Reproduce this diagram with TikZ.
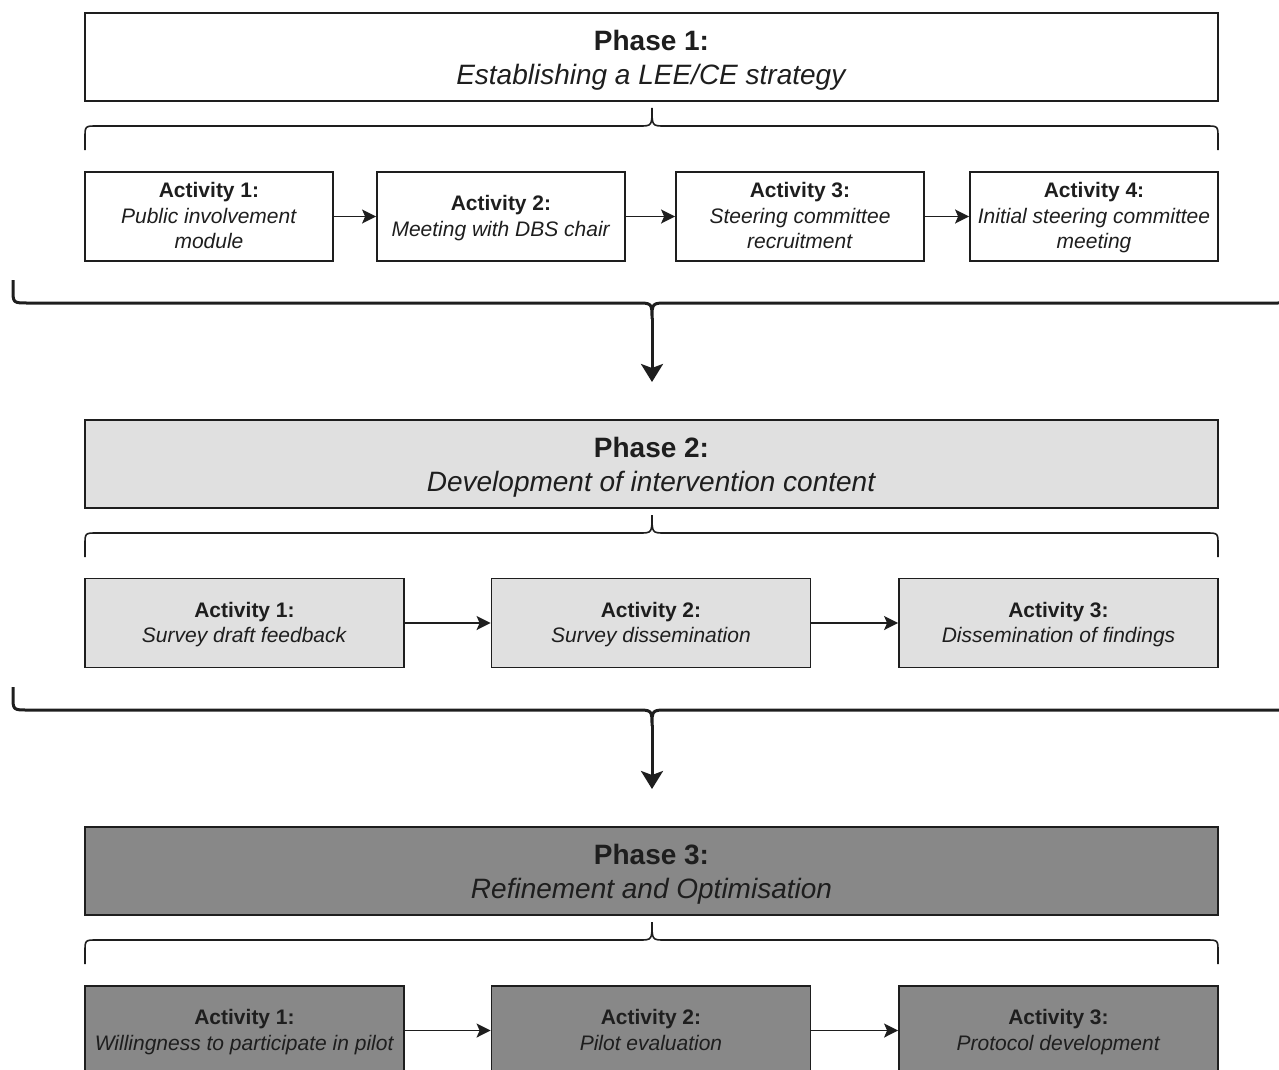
\documentclass[tikz,border=0pt]{standalone}
\usepackage{fontspec}
\setmainfont{Liberation Sans}
\usetikzlibrary{arrows.meta}

\definecolor{phasetwo}{RGB}{224,224,224}
\definecolor{phasethree}{RGB}{136,136,136}
\definecolor{ink}{RGB}{30,30,30}

\newcommand{\phasetop}{\rule{0pt}{13.2pt}}
\newcommand{\acttop}{\rule{0pt}{10.7pt}}

\tikzset{
  phase/.style={draw=ink, line width=1pt, inner sep=0pt, align=center,
    minimum width=566.5pt, minimum height=44pt, text=ink,
    font=\fontsize{14}{17}\selectfont},
  act/.style={draw=ink, line width=0.9pt, inner sep=0pt, align=center,
    minimum height=44.5pt, text=ink,
    font=\fontsize{10.5}{12.75}\selectfont},
  actsmall/.style={act, minimum width=124pt},
  actwide/.style={act, minimum width=159.5pt},
  flow/.style={draw=ink, line width=0.9pt, -{Stealth[length=7pt,width=7pt,inset=1.5pt]}},
  down/.style={draw=ink, line width=1.5pt, -{Stealth[length=9pt,width=11pt,inset=2pt]}},
  brace/.style={draw=ink, line width=0.8pt},
  bigbrace/.style={draw=ink, line width=1.5pt}
}

\begin{document}
\begin{tikzpicture}[x=0.5pt,y=-0.5pt]
\useasboundingbox (0,0) rectangle (1279,1070);
\clip (0,0) rectangle (1279,1070);

\node[phase, fill=white](p1) at (651.5,57) {\phasetop\textbf{Phase 1:}\\\textit{Establishing a LEE/CE strategy}};
\node[phase, fill=phasetwo](p2) at (651.5,464) {\phasetop\textbf{Phase 2:}\\\textit{Development of intervention content}};
\node[phase, fill=phasethree](p3) at (651.5,871) {\phasetop\textbf{Phase 3:}\\\textit{Refinement and Optimisation}};

\node[actsmall](a11) at (209,216.5) {\acttop\textbf{Activity 1:}\\\textit{Public involvement}\\\textit{module}\strut};
\node[actsmall](a12) at (501,216.5) {\acttop\textbf{Activity 2:}\\\textit{Meeting with DBS chair}\strut};
\node[actsmall](a13) at (800,216.5) {\acttop\textbf{Activity 3:}\\\textit{Steering committee}\\\textit{recruitment}\strut};
\node[actsmall](a14) at (1094,216.5) {\acttop\textbf{Activity 4:}\\\textit{Initial steering committee}\\\textit{meeting}\strut};

\node[actwide, fill=phasetwo](a21) at (244.5,623) {\acttop\textbf{Activity 1:}\\\textit{Survey draft feedback}\strut};
\node[actwide, fill=phasetwo](a22) at (651,623) {\acttop\textbf{Activity 2:}\\\textit{Survey dissemination}\strut};
\node[actwide, fill=phasetwo](a23) at (1058.5,623) {\acttop\textbf{Activity 3:}\\\textit{Dissemination of findings}\strut};

\node[actwide, fill=phasethree](a31) at (244.5,1030.5) {\acttop\textbf{Activity 1:}\\\textit{Willingness to participate in pilot}\strut};
\node[actwide, fill=phasethree](a32) at (651,1030.5) {\acttop\textbf{Activity 2:}\\\textit{Pilot evaluation}\strut};
\node[actwide, fill=phasethree](a33) at (1058.5,1030.5) {\acttop\textbf{Activity 3:}\\\textit{Protocol development}\strut};

\foreach \from/\to in {a11/a12, a12/a13, a13/a14, a21/a22, a22/a23, a31/a32, a32/a33}
    \draw[flow] (\from) -- (\to);

% braces under the phase boxes
\foreach \y in {126,533,940}
    \draw[brace] (85,\y+24) -- (85,\y+12) .. controls (85,\y) .. (97,\y) -- (639,\y)
      .. controls (652,\y) .. (652,\y-18) .. controls (652,\y) .. (665,\y)
      -- (1206,\y) .. controls (1218,\y) .. (1218,\y+12) -- (1218,\y+24);

% braces round the activity rows
\foreach \y in {303,710}
    \draw[bigbrace] (13,\y-23) -- (13,\y-14) .. controls (13,\y) .. (28,\y) -- (636,\y)
      .. controls (652,\y) .. (652,\y+16) .. controls (652,\y) .. (668,\y)
      -- (1276,\y) .. controls (1291,\y) .. (1291,\y-14) -- (1291,\y-23);

\coordinate (b1) at (652,318);
\coordinate (e1) at (652,382);
\coordinate (b2) at (652,725);
\coordinate (e2) at (652,789);

\foreach \from/\to in {b1/e1, b2/e2}
    \draw[down] (\from) -- (\to);

\end{tikzpicture}
\end{document}
